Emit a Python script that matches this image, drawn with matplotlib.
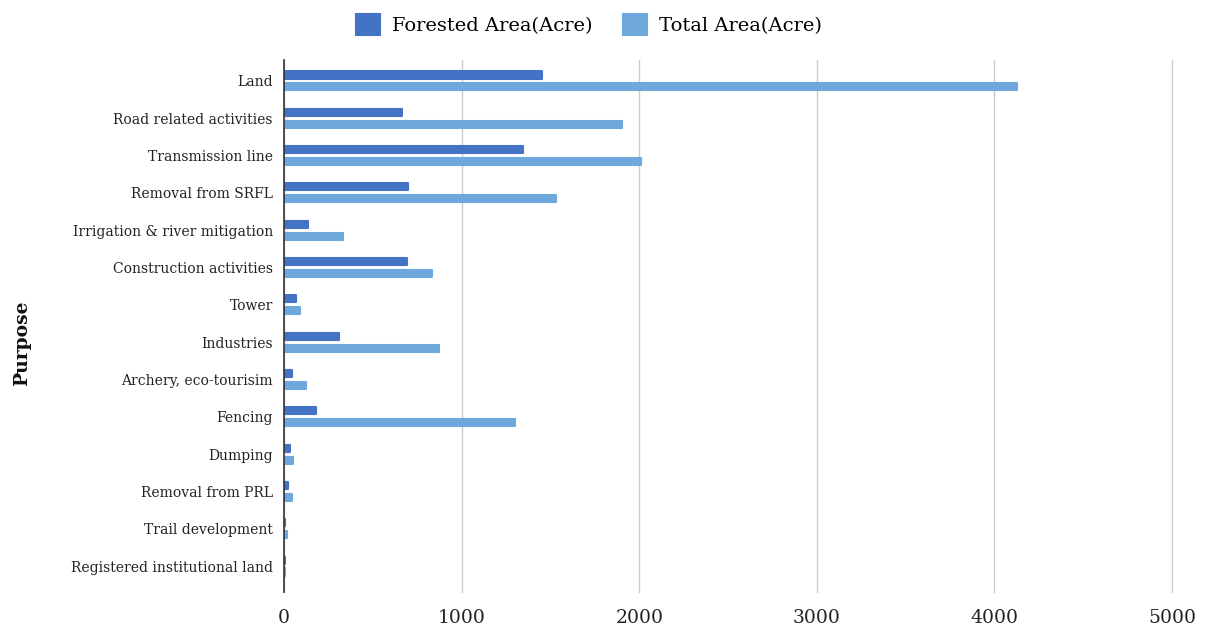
import matplotlib.pyplot as plt
import numpy as np

purposes = ['Land', 'Road related activities', 'Transmission line', 'Removal from SRFL',
            'Irrigation & river mitigation', 'Construction activities', 'Tower', 'Industries',
            'Archery, eco-tourisim', 'Fencing', 'Dumping', 'Removal from PRL',
            'Trail development', 'Registered institutional land']
forested = [1450, 665, 1345, 700, 135, 690, 70, 310, 45, 180, 32, 20, 6, 3]
total = [4130, 1905, 2010, 1530, 335, 835, 88, 875, 125, 1300, 48, 45, 16, 6]

plt.rcParams['font.family'] = 'DejaVu Serif'

fig = plt.figure(figsize=(12.09, 6.32), dpi=100)
ax = fig.add_axes([0.2349, 0.063, 0.9694 - 0.2349, 0.842])

y = np.arange(len(purposes))
ax.barh(y - 0.16, forested, height=0.19, color='#4472c4', edgecolor='#4472c4',
        linewidth=1.5, joinstyle='round', label='Forested Area(Acre)')
ax.barh(y + 0.16, total, height=0.19, color='#6fa8dc', edgecolor='#6fa8dc',
        linewidth=1.5, joinstyle='round', label='Total Area(Acre)')

ax.set_xlim(0, 5000)
ax.set_ylim(13.7, -0.56)
ax.set_yticks(y)
ax.set_yticklabels(purposes, fontsize=10, color='#222222')
ax.set_xticks([0, 1000, 2000, 3000, 4000, 5000])
ax.tick_params(axis='x', labelsize=13.5, length=0, pad=12, colors='#222222')
ax.tick_params(axis='y', length=0, pad=8)

ax.grid(axis='x', color='#cccccc', linewidth=1)
for gl in ax.get_xgridlines():
    gl.set_clip_on(False)
ax.set_axisbelow(True)
for s in ['top', 'right', 'bottom']:
    ax.spines[s].set_visible(False)
ax.spines['left'].set_color('#333333')
ax.spines['left'].set_linewidth(1.2)
ax.spines['left'].set_zorder(5)

fig.text(0.018, 0.457, 'Purpose', rotation=90, fontsize=13.5, fontweight='bold',
         ha='center', va='center', color='#111111')

fig.legend(loc='upper center', bbox_to_anchor=(0.487, 1.005), ncol=2, frameon=False,
           fontsize=14, handlelength=1.25, handleheight=1.25, columnspacing=1.6,
           handletextpad=0.6)

fig.savefig('out.png', dpi=100)
